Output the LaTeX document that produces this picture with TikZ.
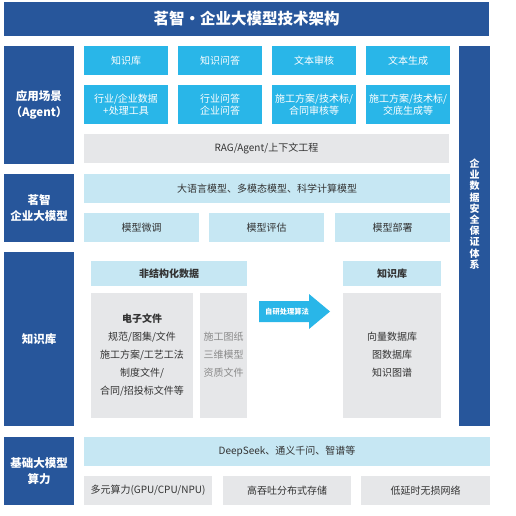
\documentclass[tikz,border=0pt]{standalone}
\usepackage{fontspec}
\setmainfont{Noto Sans CJK SC}
\definecolor{dblue}{HTML}{27569B}
\definecolor{cyanb}{HTML}{29B6E8}
\definecolor{lblue}{HTML}{C6E7F3}
\definecolor{lgray}{HTML}{E6E7E9}
\definecolor{txt}{HTML}{333333}
\definecolor{ltxt}{HTML}{8A8A8A}
\newcommand\bx[7]{\node[#6, minimum width=#4pt-#2pt, minimum height=#5pt-#3pt] (#1) at ({(#2+#4)/2*1pt},{-(#3+#5)/2*1pt}) {#7};}
\tikzset{
  base/.style={rectangle, inner sep=0pt, outer sep=0pt, align=center},
  darkbox/.style={base, fill=dblue, text=white, font=\bfseries\fontsize{11.5}{16.5}\selectfont},
  cyanbox/.style={base, fill=cyanb, text=white, font=\fontsize{10}{11.5}\selectfont},
  lbbox/.style={base, fill=lblue, text=txt, font=\fontsize{10}{11.5}\selectfont},
  lbhead/.style={base, fill=lblue, text=txt, font=\bfseries\fontsize{10}{11.5}\selectfont},
  gbox/.style={base, fill=lgray, text=txt, font=\fontsize{10}{11.5}\selectfont},
  plain/.style={inner sep=0pt, text=txt, font=\fontsize{10}{11.5}\selectfont},
}
\begin{document}
\begin{tikzpicture}[x=1pt,y=1pt]
\useasboundingbox (0,0) rectangle (515,-516);
% title
\bx{title}{4}{2}{489}{36}{base, fill=dblue, text=white, font=\bfseries\fontsize{15.5}{18}\selectfont}{茗智·企业大模型技术架构}
% left labels
\bx{lapp}{4}{46}{74}{164}{darkbox}{应用场景\\（Agent）}
\bx{lmodel}{4}{174}{74}{242}{darkbox}{茗智\\企业大模型}
\bx{lkb}{4}{252}{74}{426}{darkbox}{知识库}
\bx{lbase}{4}{437}{74}{505}{darkbox}{基础大模型\\算力}
% right bar
\bx{rbar}{459}{46}{490}{426}{base, fill=dblue}{}
\node[text=white, font=\bfseries\fontsize{10}{11.2}\selectfont, align=center, inner sep=0pt] (rtext) at (474.5,-214) {企\\业\\数\\据\\安\\全\\保\\证\\体\\系};
% application row 1
\bx{a1}{84}{46}{168}{75}{cyanbox}{知识库}
\bx{a2}{178}{46}{262}{75}{cyanbox}{知识问答}
\bx{a3}{272}{46}{356}{75}{cyanbox}{文本审核}
\bx{a4}{366}{46}{450}{75}{cyanbox}{文本生成}
% application row 2
\bx{b1}{84}{85}{168}{124}{cyanbox}{行业/企业数据\\+处理工具}
\bx{b2}{178}{85}{262}{124}{cyanbox}{行业问答\\企业问答}
\bx{b3}{272}{85}{356}{124}{cyanbox}{施工方案/技术标/\\合同审核等}
\bx{b4}{366}{85}{450}{124}{cyanbox}{施工方案/技术标/\\交底生成等}
\bx{rag}{84}{134}{449}{163}{gbox}{RAG/Agent/上下文工程}
% model
\bx{m0}{84}{174}{450}{203}{lbbox}{大语言模型、多模态模型、科学计算模型}
\bx{m1}{84}{213}{199}{242}{lbbox}{模型微调}
\bx{m2}{209}{213}{324}{242}{lbbox}{模型评估}
\bx{m3}{335}{213}{450}{242}{lbbox}{模型部署}
% knowledge
\bx{kh1}{91}{261}{247}{286}{lbhead}{非结构化数据}
\bx{kh2}{343}{261}{441}{286}{lbhead}{知识库}
\bx{kg1}{91}{293}{193}{418}{gbox}{}
\bx{kg2}{200}{293}{247}{418}{gbox}{}
\bx{kg3}{343}{293}{441}{418}{gbox}{}
\node[plain, font=\bfseries\fontsize{10}{11.5}\selectfont] (e0) at (142,-319) {电子文件};
\node[plain] (e1) at (142,-337) {规范/图集/文件};
\node[plain] (e2) at (142,-355) {施工方案/工艺工法};
\node[plain] (e3) at (142,-373) {制度文件/};
\node[plain] (e4) at (142,-391) {合同/招投标文件等};
\node[plain, text=ltxt] (f1) at (223.5,-337) {施工图纸};
\node[plain, text=ltxt] (f2) at (223.5,-355) {三维模型};
\node[plain, text=ltxt] (f3) at (223.5,-373) {资质文件};
\node[plain] (g1) at (392,-337) {向量数据库};
\node[plain] (g2) at (392,-355) {图数据库};
\node[plain] (g3) at (392,-373) {知识图谱};
% arrow
\fill[cyanb] (259,-301) -- (309,-301) -- (309,-294) -- (330,-311.5) -- (309,-329) -- (309,-322) -- (259,-322) -- cycle;
\node[inner sep=0pt, anchor=west, text=white, font=\bfseries\fontsize{7.3}{8}\selectfont] (arrtext) at (265,-311.5) {自研处理算法};
% base
\bx{d0}{84}{437}{490}{466}{lbbox}{DeepSeek、通义千问、智谱等}
\bx{d1}{84}{476}{212}{505}{gbox}{多元算力(GPU/CPU/NPU)}
\bx{d2}{223}{476}{351}{505}{gbox}{高吞吐分布式存储}
\bx{d3}{361}{476}{490}{505}{gbox}{低延时无损网络}
\end{tikzpicture}
\end{document}
